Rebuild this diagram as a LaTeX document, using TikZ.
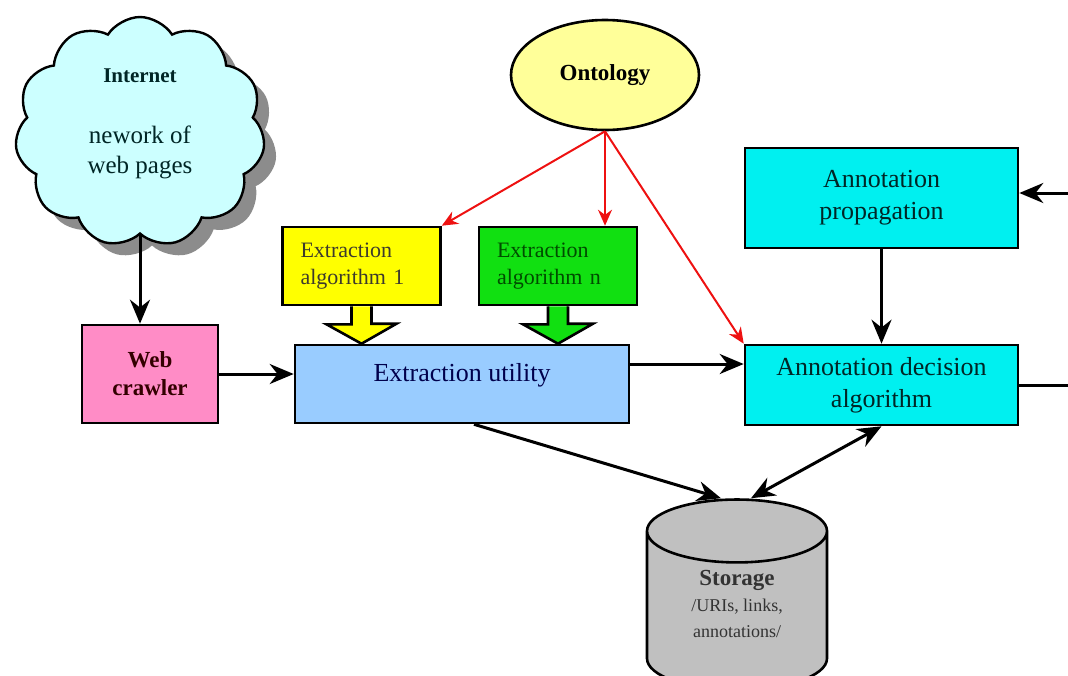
\documentclass[tikz,border=0pt]{standalone}
\usepackage{fontspec}
\setmainfont{Liberation Serif}
\usetikzlibrary{shapes.geometric,shapes.symbols,shadows,arrows.meta}
\definecolor{netfill}{HTML}{CCFFFF}
\definecolor{ontofill}{HTML}{FFFF99}
\definecolor{algone}{HTML}{FFFF00}
\definecolor{algenn}{HTML}{11E011}
\definecolor{crawlfill}{HTML}{FF8CC6}
\definecolor{utilfill}{HTML}{99CCFF}
\definecolor{annofill}{HTML}{00F0F0}
\definecolor{storfill}{HTML}{C0C0C0}
\definecolor{ontored}{HTML}{EE1111}

\begin{document}
\begin{tikzpicture}[x=.5pt,y=-.5pt,
    box/.style={draw,rectangle,line width=1.3pt,inner sep=2pt,align=center,
      font=\fontsize{13}{16}\selectfont},
    algbox/.style={box,align=left,text width=61pt,inner xsep=9pt,
      minimum height=39pt,font=\fontsize{11}{13.5}\selectfont},
    flow/.style={line width=1.5pt,-{Stealth[length=12pt,width=10pt]}},
    bothflow/.style={line width=1.5pt,
      {Stealth[length=12pt,width=10pt]}-{Stealth[length=12pt,width=10pt]}},
    ontoflow/.style={draw=ontored,line width=1pt,
      -{Stealth[length=8pt,width=7pt]}},
    fatarrow/.style={draw,line width=1.3pt,line join=miter}]
  \useasboundingbox (0,0) rectangle (1068,675);
  \clip (0,0) rectangle (1068,675);

  \node[draw,cloud,cloud puffs=11,cloud puff arc=115,aspect=1.1,line width=1.2pt,
    fill=netfill,minimum width=125pt,minimum height=115pt,align=center,
    text=black!70!teal,font=\fontsize{12.5}{15}\selectfont,text depth=11pt,
    drop shadow={shadow xshift=6pt,shadow yshift=-6pt,fill=black!45,opacity=1}]
    (net) at (140,132) {\fontsize{10.5}{12}\selectfont\bfseries Internet\\[15.5pt]
    nework of\\web pages};
  \node[draw,ellipse,line width=1.3pt,fill=ontofill,minimum width=94pt,
    minimum height=55pt,font=\fontsize{11.5}{14}\selectfont\bfseries]
    (onto) at (605,75) {Ontology};

  \node[algbox,fill=algone,text=black!75!olive,minimum width=78.5pt]
    (a1) at (361.5,266) {Extraction\\algorithm 1};
  \node[algbox,fill=algenn,text=black!70!green,minimum width=79pt]
    (an) at (558,266) {Extraction\\algorithm n};

  \node[box,fill=crawlfill,minimum width=68pt,minimum height=49pt,
    text=black!80!red,font=\fontsize{11.5}{14}\selectfont\bfseries]
    (wc) at (150,374) {Web\\crawler};
  \node[box,fill=utilfill,minimum width=167pt,minimum height=39pt,
    text=black!70!blue,text height=9pt,text depth=12pt]
    (eu) at (462,384) {Extraction utility};

  \node[box,fill=annofill,minimum width=136.5pt,minimum height=50pt,
    text=black!70!teal] (ap) at (881.5,198) {Annotation\\propagation};
  \node[box,fill=annofill,minimum width=136.5pt,minimum height=40pt,
    text=black!70!teal] (ad) at (881.5,385) {Annotation decision\\algorithm};

  \node[draw,cylinder,shape border rotate=90,aspect=0.6,line width=1.3pt,
    fill=storfill,minimum width=90pt,minimum height=93pt,align=center,
    text=black!80,font=\fontsize{9}{13}\selectfont,text depth=13pt]
    (st) at (737,617)
    {\fontsize{11.5}{14}\selectfont\bfseries Storage\\
    /URIs, links,\\annotations/};

  \coordinate (inR) at (1068,193);
  \coordinate (outR) at (1068,385);

  % fat arrows from the algorithms
  \foreach \a/\c in {a1/algone,an/algenn}{
    \draw[fatarrow,fill=\c] ([xshift=-5pt]\a.south) -- ++(0,18)
      -- ++(-25,0) -- (\a.south |- eu.north) -- ++(35,-20) -- ++(-25,0)
      -- ([xshift=5pt]\a.south);
  }

  \draw[flow] (net.south) -- (net.south |- wc.north);
  \draw[flow] (wc.east) -- (wc.east -| eu.west);
  \draw[flow] ([yshift=10pt]eu.east) -- ([yshift=10pt]eu.east -| ad.west);
  \draw[flow] (ap.south) -- (ad.north);
  \draw[flow] (inR) -- (ap.east |- inR);
  \draw[line width=1.5pt] (ad.east) -- (outR);
  \draw[flow] ([xshift=6pt]eu.south) -- ([xshift=-8pt]st.north);
  \draw[bothflow] ([xshift=7pt]st.north) -- (ad.south);

  \draw[ontoflow] (onto.south) -- (a1.north east);
  \draw[ontoflow] (onto.south) -- (onto.south |- an.north);
  \draw[ontoflow] (onto.south) -- (ad.north west);
\end{tikzpicture}
\end{document}
